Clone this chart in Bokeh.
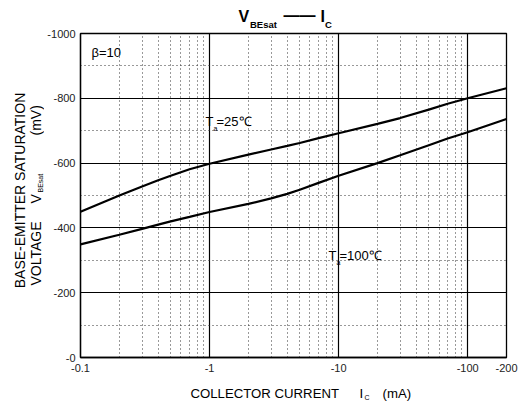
import math
from bokeh.plotting import figure
from bokeh.models import Range1d, FixedTicker, Label
from bokeh.layouts import column, row
from bokeh.embed import file_html
from bokeh.resources import INLINE

# ---- data (magnitudes; the device is PNP, so values are shown negative) ----
ic_ma = [0.1, 0.2, 0.3, 0.4, 0.5, 0.7, 1, 2, 3, 4, 5, 7, 10, 20, 30, 50, 70, 100, 200]
vbe_25 = [450, 500, 528, 547, 561, 581, 598, 626, 642, 653, 662, 677, 692,
          721, 739, 765, 783, 800, 831]
vbe_100 = [349, 379, 397, 410, 420, 434, 449, 474, 491, 505, 518, 539, 561,
           600, 624, 655, 676, 695, 736]

x_ticks = [0.1, 1, 10, 100, 200]
x_tick_labels = ["-0.1", "-1", "-10", "-100", "-200"]
y_ticks = [0, 200, 400, 600, 800, 1000]
y_tick_labels = ["-0", "-200", "-400", "-600", "-800", "-1000"]
x_grid_major = [1, 10, 100]
x_grid_minor = [0.2, 0.3, 0.4, 0.5, 0.6, 0.7, 0.8, 0.9,
                2, 3, 4, 5, 6, 7, 8, 9,
                20, 30, 40, 50, 60, 70, 80, 90]
y_grid_major = [200, 400, 600, 800]
y_grid_minor = [100, 300, 500, 700, 900]

FONT = "Liberation Sans"

# page layout (px): top strip 29 high; left strip 44 wide; bottom strip 20 high
TOP_H, LEFT_W, BOT_H = 29, 44, 20
W, H = 518, 401
P_W, P_H = W - LEFT_W, H - TOP_H - BOT_H
BT, BB = 4, 24          # top / bottom borders of the plot frame

p = figure(width=P_W, height=P_H, x_axis_type="log",
           x_range=Range1d(0.1, 200), y_range=Range1d(0, 1000),
           output_backend="svg", toolbar_location=None,
           min_border_left=34, min_border_right=12,
           min_border_top=BT, min_border_bottom=BB)
p.title.visible = False
p.background_fill_color = "white"
p.border_fill_color = "white"
p.outline_line_color = "black"
p.outline_line_width = 1.3
p.outline_line_alpha = 1

# grids
p.xgrid.ticker = FixedTicker(ticks=x_grid_major, minor_ticks=x_grid_minor)
p.ygrid.ticker = FixedTicker(ticks=y_grid_major, minor_ticks=y_grid_minor)
for g in (p.xgrid, p.ygrid):
    g.grid_line_color = "black"
    g.grid_line_width = 1.2
    g.grid_line_alpha = 1
    g.minor_grid_line_color = "#333333"
    g.minor_grid_line_width = 1
    g.minor_grid_line_dash = "1 3"

# axes
p.xaxis.ticker = FixedTicker(ticks=x_ticks)
p.xaxis.major_label_overrides = dict(zip(x_ticks, x_tick_labels))
p.yaxis.ticker = FixedTicker(ticks=y_ticks)
p.yaxis.major_label_overrides = dict(zip(y_ticks, y_tick_labels))
for ax in (p.xaxis, p.yaxis):
    ax.axis_line_color = "black"
    ax.axis_line_width = 1.3
    ax.major_tick_line_color = None
    ax.minor_tick_line_color = None
    ax.major_tick_out = 0
    ax.major_tick_in = 0
    ax.minor_tick_out = 0
    ax.minor_tick_in = 0
    ax.major_label_text_font = FONT
    ax.major_label_text_font_size = "11px"
    ax.major_label_text_color = "#222222"
p.xaxis.major_label_standoff = 6
p.yaxis.major_label_standoff = 5

# curves
p.line(ic_ma, vbe_25, line_color="black", line_width=2.2)
p.line(ic_ma, vbe_100, line_color="black", line_width=2.2)

# plot frame in page coordinates: left 78, bottom 357
FX, FY = 78, 357


def in_plot(text, px, py, size):
    p.add_layout(Label(x=px - FX, y=FY - py, x_units="screen", y_units="screen",
                       text=text, text_font=FONT, text_font_size=f"{size}px",
                       text_color="black", text_align="left",
                       text_baseline="middle"))


in_plot("\u03b2=10", 89, 52, 13)
in_plot("T", 203, 121, 13)
in_plot("a", 211, 128, 7)
in_plot("=25\u2103", 214, 121, 13)
in_plot("T", 326, 255, 13)
in_plot("a", 334, 262, 7)
in_plot("=100\u2103", 337, 255, 13)


def strip(w, h, bt=0, bb=0):
    f = figure(width=w, height=h, x_range=Range1d(0, w),
               y_range=Range1d(0, h - bt - bb),
               output_backend="svg", toolbar_location=None,
               x_axis_location=None, y_axis_location=None, min_border=0,
               min_border_top=bt, min_border_bottom=bb)
    f.title.visible = False
    f.grid.visible = False
    f.outline_line_color = None
    f.background_fill_color = "white"
    f.border_fill_color = "white"
    return f


def put(f, ox, frame_bottom, text, px, py, size, bold=False, align="left", angle=0.0):
    # px, py: page position; frame_bottom: page y of the strip's frame bottom
    f.add_layout(Label(x=px - ox, y=frame_bottom - py, text=text,
                       text_font=FONT, text_font_size=f"{size}px",
                       text_font_style="bold" if bold else "normal",
                       text_color="black", text_align=align,
                       text_baseline="middle", angle=angle))


# title strip: V_BEsat —— I_C
top = strip(W, TOP_H)
put(top, 0, TOP_H, "V", 238, 15.5, 16, bold=True)
put(top, 0, TOP_H, "BEsat", 249.5, 23.5, 9.5, bold=True)
put(top, 0, TOP_H, "\u2014\u2014", 283, 15, 16, bold=True)
put(top, 0, TOP_H, "I", 320, 15.5, 16, bold=True)
put(top, 0, TOP_H, "C", 324.5, 23.5, 9.5, bold=True)

# y axis title strip (rotated, two lines); its frame matches the plot frame rows
left = strip(LEFT_W, P_H, bt=BT, bb=BB)
LB = TOP_H + P_H - BB
R = math.pi / 2
put(left, 0, LB, "BASE-EMITTER SATURATION", 19, 190, 14, align="center", angle=R)
put(left, 0, LB, "VOLTAGE", 35, 285, 14, angle=R)
put(left, 0, LB, "V", 35, 203, 14, angle=R)
put(left, 0, LB, "BEsat", 40, 192, 7, angle=R)
put(left, 0, LB, "(mV)", 35, 135, 14, angle=R)

# x axis title strip (at the window bottom, as in the original)
bottom = strip(W, BOT_H)
put(bottom, 0, H, "COLLECTOR CURRENT", 190, 393, 13.2)
put(bottom, 0, H, "I", 359, 393, 13.2)
put(bottom, 0, H, "C", 364, 396.5, 7)
put(bottom, 0, H, "(mA)", 382, 393, 13.2)

layout = column(top, row(left, p), bottom)
open("out.html", "w").write(file_html(layout, INLINE))
